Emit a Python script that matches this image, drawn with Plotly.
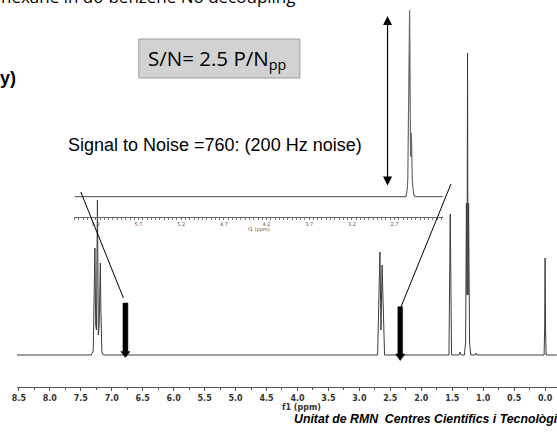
import plotly.graph_objects as go

W, H = 557, 434

# ---- data ----
# main 1H spectrum: chemical shift (ppm) and intensity (arbitrary units)
main_ppm = [8.53, 7.331, 7.299, 7.283, 7.272, 7.259, 7.247, 7.231, 7.216, 7.203, 7.184, 7.175, 7.159, 7.139,
            2.705, 2.668, 2.651, 2.633, 2.593,
            1.553, 1.532, 1.511,
            1.390, 1.372, 1.355,
            1.3045, 1.284, 1.271, 1.261, 1.253, 1.245, 1.236, 1.220, 1.200,
            1.135, 1.120, 1.105,
            0.016, 0.0064, 0.0, -0.0064, -0.016, -0.19]
main_int = [0, 0, 4, 80, 107, 30, 25, 155, 20, 30, 92, 45, 3, 0,
            0, 103, 25, 90, 0,
            0, 141, 0,
            0, 3, 0,
            0, 12, 152, 60, 302, 60, 152, 12, 0,
            0, 2, 0,
            0, 30, 97, 30, 0, 0]

# vertical expansion (inset)
inset_ppm = [6.452, 2.567, 2.550, 2.544, 2.523, 2.512, 2.503, 2.491, 2.474, 2.457, 2.135]
inset_int = [0, 0, 8, 20, 187, 40, 64, 15, 2, 0, 0]

main_tick_vals = [8.5, 8.0, 7.5, 7.0, 6.5, 6.0, 5.5, 5.0, 4.5, 4.0, 3.5, 3.0, 2.5, 2.0, 1.5, 1.0, 0.5, 0.0]
main_tick_text = ["8.5", "8.0", "7.5", "7.0", "6.5", "6.0", "5.5", "5.0", "4.5", "4.0", "3.5", "3.0",
                  "2.5", "2.0", "1.5", "1.0", "0.5", "0.0"]
inset_tick_vals = [6.2, 5.7, 5.2, 4.7, 4.2, 3.7, 3.2, 2.7]
inset_tick_text = ["6.2", "5.7", "5.2", "4.7", "4.2", "3.7", "3.2", "2.7"]


def px(p):
    return p / W


def py(p):
    return 1 - p / H


fig = go.Figure()
fig.add_trace(go.Scatter(x=main_ppm, y=main_int, mode="lines",
                         line=dict(color="#3c3c3c", width=1), xaxis="x", yaxis="y",
                         hoverinfo="skip", showlegend=False))
fig.add_trace(go.Scatter(x=inset_ppm, y=inset_int, mode="lines",
                         line=dict(color="#6a6a6a", width=1.2), xaxis="x2", yaxis="y2",
                         hoverinfo="skip", showlegend=False))

shapes = [
    # S/N box
    dict(type="rect", xref="paper", yref="paper", x0=px(135), x1=px(297.5), y0=py(78), y1=py(39),
         fillcolor="#d2d2d2", line=dict(color="#9c9c9c", width=1), layer="below"),
    # connecting lines
    dict(type="line", xref="paper", yref="paper", x0=px(76.5), y0=py(192), x1=px(119.5), y1=py(298),
         line=dict(color="black", width=1)),
    dict(type="line", xref="paper", yref="paper", x0=px(450), y0=py(184), x1=px(399.5), y1=py(307),
         line=dict(color="black", width=1)),
    # block arrows
    dict(type="path", xref="paper", yref="paper", fillcolor="black", line=dict(color="black", width=0.5),
         path=(f"M {px(119)} {py(303)} L {px(124)} {py(303)} L {px(124)} {py(351.5)} L {px(126.2)} {py(351.5)} "
               f"L {px(121.5)} {py(357.5)} L {px(116.8)} {py(351.5)} L {px(119)} {py(351.5)} Z")),
    dict(type="path", xref="paper", yref="paper", fillcolor="black", line=dict(color="black", width=0.5),
         path=(f"M {px(396.4)} {py(306.7)} L {px(401.2)} {py(306.7)} L {px(401.2)} {py(354)} L {px(403.5)} {py(354)} "
               f"L {px(398.8)} {py(360.5)} L {px(394.1)} {py(354)} L {px(396.4)} {py(354)} Z")),
]

annotations = [
    dict(text="hexane in d6-benzene No decoupling", xref="paper", yref="paper", x=px(296), y=py(-3),
         xanchor="right", yanchor="middle", showarrow=False,
         font=dict(family="Open Sans", size=17, color="black")),
    dict(text="y)", xref="paper", yref="paper", x=px(13), y=py(78), xanchor="right", yanchor="middle",
         showarrow=False, font=dict(family="Liberation Sans", size=18, color="black", weight="bold")),
    dict(text="S/N= 2.5 P/N<sub>pp</sub>", xref="paper", yref="paper", x=px(214), y=py(59),
         xanchor="center", yanchor="middle", showarrow=False,
         font=dict(family="Open Sans", size=20.5, color="black")),
    dict(text="Signal to Noise =760: (200 Hz noise)", xref="paper", yref="paper", x=px(362), y=py(145),
         xanchor="right", yanchor="middle", showarrow=False,
         font=dict(family="Liberation Sans", size=18, color="black")),
    dict(text="Unitat de RMN  Centres Científics i Tecnològics", xref="paper", yref="paper", x=px(290), y=py(419),
         xanchor="left", yanchor="middle", showarrow=False,
         font=dict(family="Liberation Sans", size=12.3, color="black", weight="bold", style="italic")),
    dict(text="f1 (ppm)", xref="paper", yref="paper", x=px(299), y=py(407), xanchor="center", yanchor="middle",
         showarrow=False, font=dict(family="DejaVu Sans", size=8, color="#333", weight="bold")),
    dict(text="f1 (ppm)", xref="paper", yref="paper", x=px(256), y=py(229), xanchor="center", yanchor="middle",
         showarrow=False, font=dict(family="DejaVu Sans", size=5, color="#555")),
    # double headed arrow
    dict(text="", xref="paper", yref="paper", x=px(386), y=py(16), ax=0, ay=171, axref="pixel", ayref="pixel",
         showarrow=True, arrowhead=2, startarrowhead=2, arrowside="end+start", arrowsize=1.5, startarrowsize=1.5,
         arrowwidth=1.2, arrowcolor="black", standoff=0, startstandoff=0),
]


def ppm_at(p):
    return 8.5 - (p - 14) / 62.47


def ippm_at(p):
    return 6.2 - (p - 91.7) / 86.1


fig.update_layout(
    width=W, height=H, margin=dict(l=0, r=0, t=0, b=0),
    paper_bgcolor="white", plot_bgcolor="rgba(0,0,0,0)",
    showlegend=False,
    xaxis=dict(domain=[12 / W, 1], range=[ppm_at(12), ppm_at(557)], anchor="free", position=py(387),
               showline=True, linecolor="#555", linewidth=1, showgrid=False, zeroline=False,
               tickmode="array", tickvals=main_tick_vals, ticktext=main_tick_text,
               ticks="outside", ticklen=3, tickcolor="#555", tickwidth=1,
               tickfont=dict(family="DejaVu Sans", size=8, color="#333", weight="bold"),
               minor=dict(ticks="outside", ticklen=2, dtick=0.25, tick0=0, tickcolor="#555", showgrid=False)),
    yaxis=dict(domain=[0, 1], range=[355 - H, 355], visible=False),
    xaxis2=dict(domain=[70 / W, 441.7 / W], range=[ippm_at(70), ippm_at(441.7)], anchor="free",
                position=py(217.3), showline=True, linecolor="#666", linewidth=1, showgrid=False, zeroline=False,
                tickmode="array", tickvals=inset_tick_vals, ticktext=inset_tick_text,
                ticks="outside", ticklen=2, tickcolor="#666", tickwidth=1,
                tickfont=dict(family="DejaVu Sans", size=5, color="#555"),
                minor=dict(ticks="outside", ticklen=1.5, dtick=0.05, tick0=0.2, tickcolor="#777", showgrid=False)),
    yaxis2=dict(domain=[0, 1], range=[196.7 - H, 196.7], visible=False, anchor="x2"),
    shapes=shapes,
    annotations=annotations,
)

fig.write_html("out.html",
               config={"displayModeBar": False, "staticPlot": True},
               post_script="document.body.style.margin='0';document.body.style.padding='0';"
                           "document.body.style.overflow='hidden';")
